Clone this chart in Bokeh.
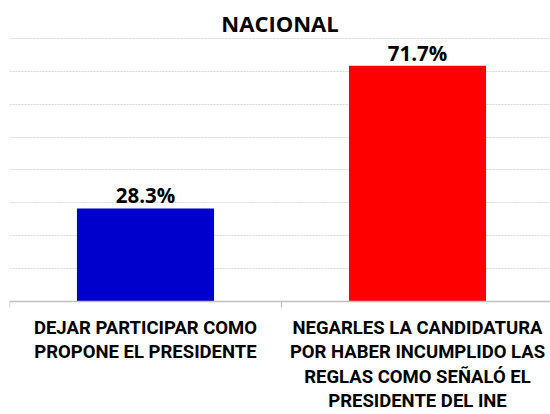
from bokeh.plotting import figure
from bokeh.models import ColumnDataSource, Range1d, FixedTicker, Grid
from bokeh.embed import file_html
from bokeh.resources import INLINE
from bokeh.core.properties import value

# ---- data ----
chart_title = "NACIONAL"
categories = [
    "DEJAR PARTICIPAR COMO\nPROPONE EL PRESIDENTE",
    "NEGARLES LA CANDIDATURA\nPOR HABER INCUMPLIDO LAS\nREGLAS COMO SEÑALÓ EL\nPRESIDENTE DEL INE",
]
values = [28.3, 71.7]
bar_colors = ["#0000CC", "#FF0000"]
grid_ticks = [10, 20, 30, 40, 50, 60, 70, 80]

# ---- layout (pixels) ----
W, H = 550, 414
FRAME_TOP, BASELINE, LEFT = 37, 301, 9
Y_TOP = 80.3
PX = (BASELINE - FRAME_TOP) / Y_TOP          # pixels per percentage point
Y_BOTTOM = -(H - BASELINE) / PX               # extend frame to canvas bottom
CAT_PX = 272                                  # pixels per category
X_START = -0.5
X_END = X_START + (W - LEFT) / CAT_PX
TICK_LEN = 6 / PX

# ---- derived ----
pos = list(range(len(categories)))
bounds = [i - 0.5 for i in range(len(categories) + 1)]
labels = [f"{v:.1f}%" for v in values]
src = ColumnDataSource(dict(x=pos, top=values, color=bar_colors, label=labels))
cat_src = ColumnDataSource(dict(x=pos, y=[0] * len(pos), text=categories))

FONT = "Open Sans"
CAT_FONT = "Roboto"
AXIS_GRAY = "#BFBFBF"

p = figure(
    width=W, height=H, output_backend="svg", toolbar_location=None,
    x_range=Range1d(X_START, X_END), y_range=Range1d(Y_BOTTOM, Y_TOP),
    x_axis_type=None, y_axis_type=None,
    min_border_left=LEFT, min_border_right=0, min_border_top=FRAME_TOP,
    min_border_bottom=0,
)
p.outline_line_color = None
p.background_fill_color = "white"
p.border_fill_color = "white"

p.title.text = chart_title
p.title.align = "center"
p.title.text_font = FONT
p.title.text_font_style = "bold"
p.title.text_font_size = "22px"
p.title.text_color = "#000000"
p.title.standoff = 0

grid = Grid(dimension=1, ticker=FixedTicker(ticks=grid_ticks),
            grid_line_color="#D9D9D9", grid_line_dash="2 1", grid_line_width=1)
p.add_layout(grid)

p.vbar(x="x", top="top", bottom=0, width=0.504, fill_color="color",
       line_color=None, source=src)

# category axis: baseline + boundary ticks
p.segment(x0=[bounds[0]], y0=[0], x1=[bounds[-1]], y1=[0],
          line_color=AXIS_GRAY, line_width=1.3)
p.segment(x0=bounds, y0=[0] * len(bounds), x1=bounds,
          y1=[-TICK_LEN] * len(bounds), line_color=AXIS_GRAY, line_width=1.3)

# value labels
p.text(x="x", y="top", text="label", source=src, text_align="center",
       text_baseline="alphabetic", y_offset=-13,
       text_font=value(FONT), text_font_style="bold", text_font_size="20.5px",
       text_color="#000000")

# category labels
p.text(x="x", y="y", text="text", source=cat_src, text_align="center",
       text_baseline="top", y_offset=15, text_line_height=1.12,
       text_font=value(CAT_FONT), text_font_style="bold",
       text_font_size="18.5px", text_color="#000000")

open("out.html", "w").write(file_html(p, INLINE))
